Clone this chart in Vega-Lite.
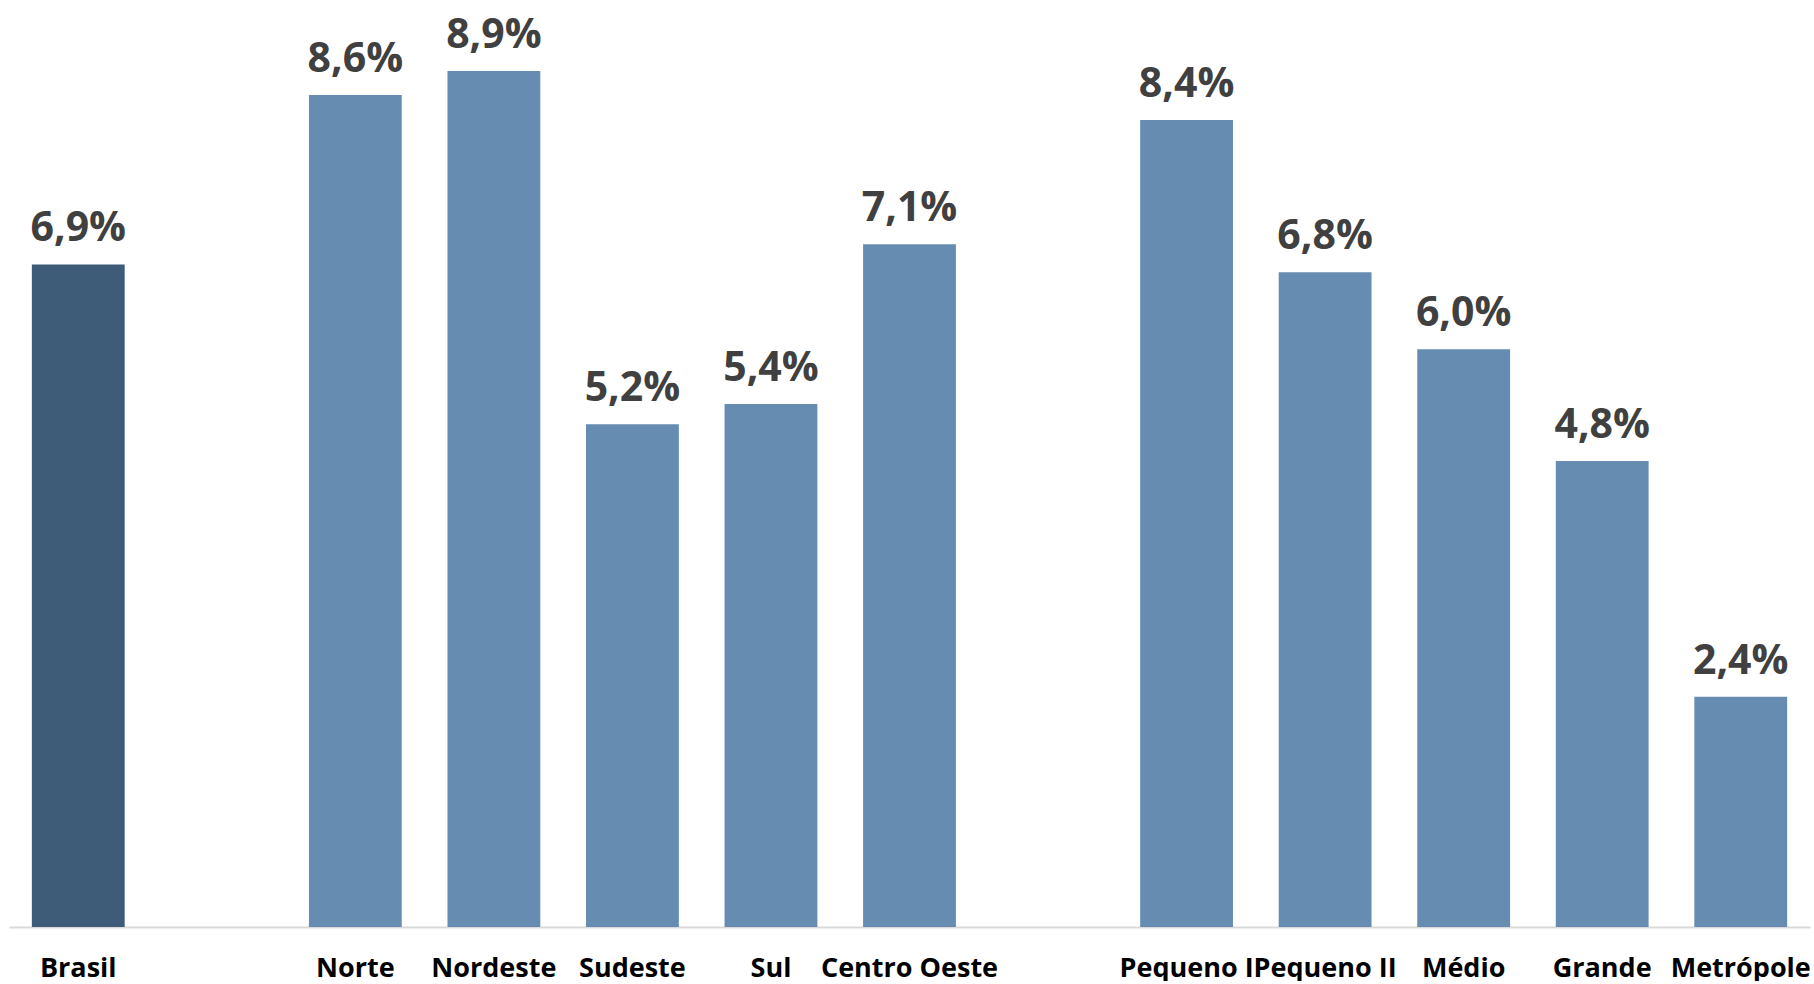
{
  "$schema": "https://vega.github.io/schema/vega-lite/v6.json",
  "width": 1801,
  "height": 927,
  "padding": {"left": 9, "top": 0, "right": 4, "bottom": 0},
  "background": "white",
  "config": {
    "view": {"stroke": null},
    "locale": {"number": {"decimal": ",", "thousands": ".", "grouping": [3], "currency": ["R$", ""]}}
  },
  "data": {
    "values": [
      {"categoria": "Brasil", "taxa": 0.0688, "grupo": "Brasil"},
      {"categoria": "gap1", "taxa": null, "grupo": "Outro"},
      {"categoria": "Norte", "taxa": 0.0864, "grupo": "Outro"},
      {"categoria": "Nordeste", "taxa": 0.0889, "grupo": "Outro"},
      {"categoria": "Sudeste", "taxa": 0.0522, "grupo": "Outro"},
      {"categoria": "Sul", "taxa": 0.0543, "grupo": "Outro"},
      {"categoria": "Centro Oeste", "taxa": 0.0709, "grupo": "Outro"},
      {"categoria": "gap2", "taxa": null, "grupo": "Outro"},
      {"categoria": "Pequeno I", "taxa": 0.0838, "grupo": "Outro"},
      {"categoria": "Pequeno II", "taxa": 0.0680, "grupo": "Outro"},
      {"categoria": "Médio", "taxa": 0.0600, "grupo": "Outro"},
      {"categoria": "Grande", "taxa": 0.0484, "grupo": "Outro"},
      {"categoria": "Metrópole", "taxa": 0.0239, "grupo": "Outro"}
    ]
  },
  "encoding": {
    "x": {
      "field": "categoria",
      "type": "nominal",
      "sort": null,
      "scale": {
        "domain": ["Brasil", "gap1", "Norte", "Nordeste", "Sudeste", "Sul", "Centro Oeste", "gap2", "Pequeno I", "Pequeno II", "Médio", "Grande", "Metrópole"],
        "paddingInner": 0.33,
        "paddingOuter": 0.165
      },
      "axis": {
        "title": null,
        "labelAngle": 0,
        "labelExpr": "indexof(datum.value, 'gap') === 0 ? '' : datum.value",
        "labelFont": "Open Sans",
        "labelFontWeight": "bold",
        "labelFontSize": 27,
        "labelColor": "#000000",
        "labelBaseline": "alphabetic",
        "labelPadding": 49,
        "labelOverlap": false,
        "labelLimit": 0,
        "ticks": false,
        "domainColor": "#d9d9d9",
        "domainWidth": 2,
        "grid": false
      }
    },
    "y": {
      "field": "taxa",
      "type": "quantitative",
      "scale": {"domain": [0, 0.09626], "nice": false, "zero": true},
      "axis": null
    }
  },
  "layer": [
    {
      "mark": {"type": "bar"},
      "encoding": {
        "color": {
          "field": "grupo",
          "type": "nominal",
          "scale": {"domain": ["Brasil", "Outro"], "range": ["#3e5c78", "#668db1"]},
          "legend": null
        }
      }
    },
    {
      "mark": {
        "type": "text",
        "baseline": "alphabetic",
        "dy": -23,
        "font": "Open Sans",
        "fontWeight": "bold",
        "fontSize": 41,
        "color": "#404040"
      },
      "encoding": {
        "text": {"field": "taxa", "type": "quantitative", "format": ".1%"}
      }
    }
  ]
}
